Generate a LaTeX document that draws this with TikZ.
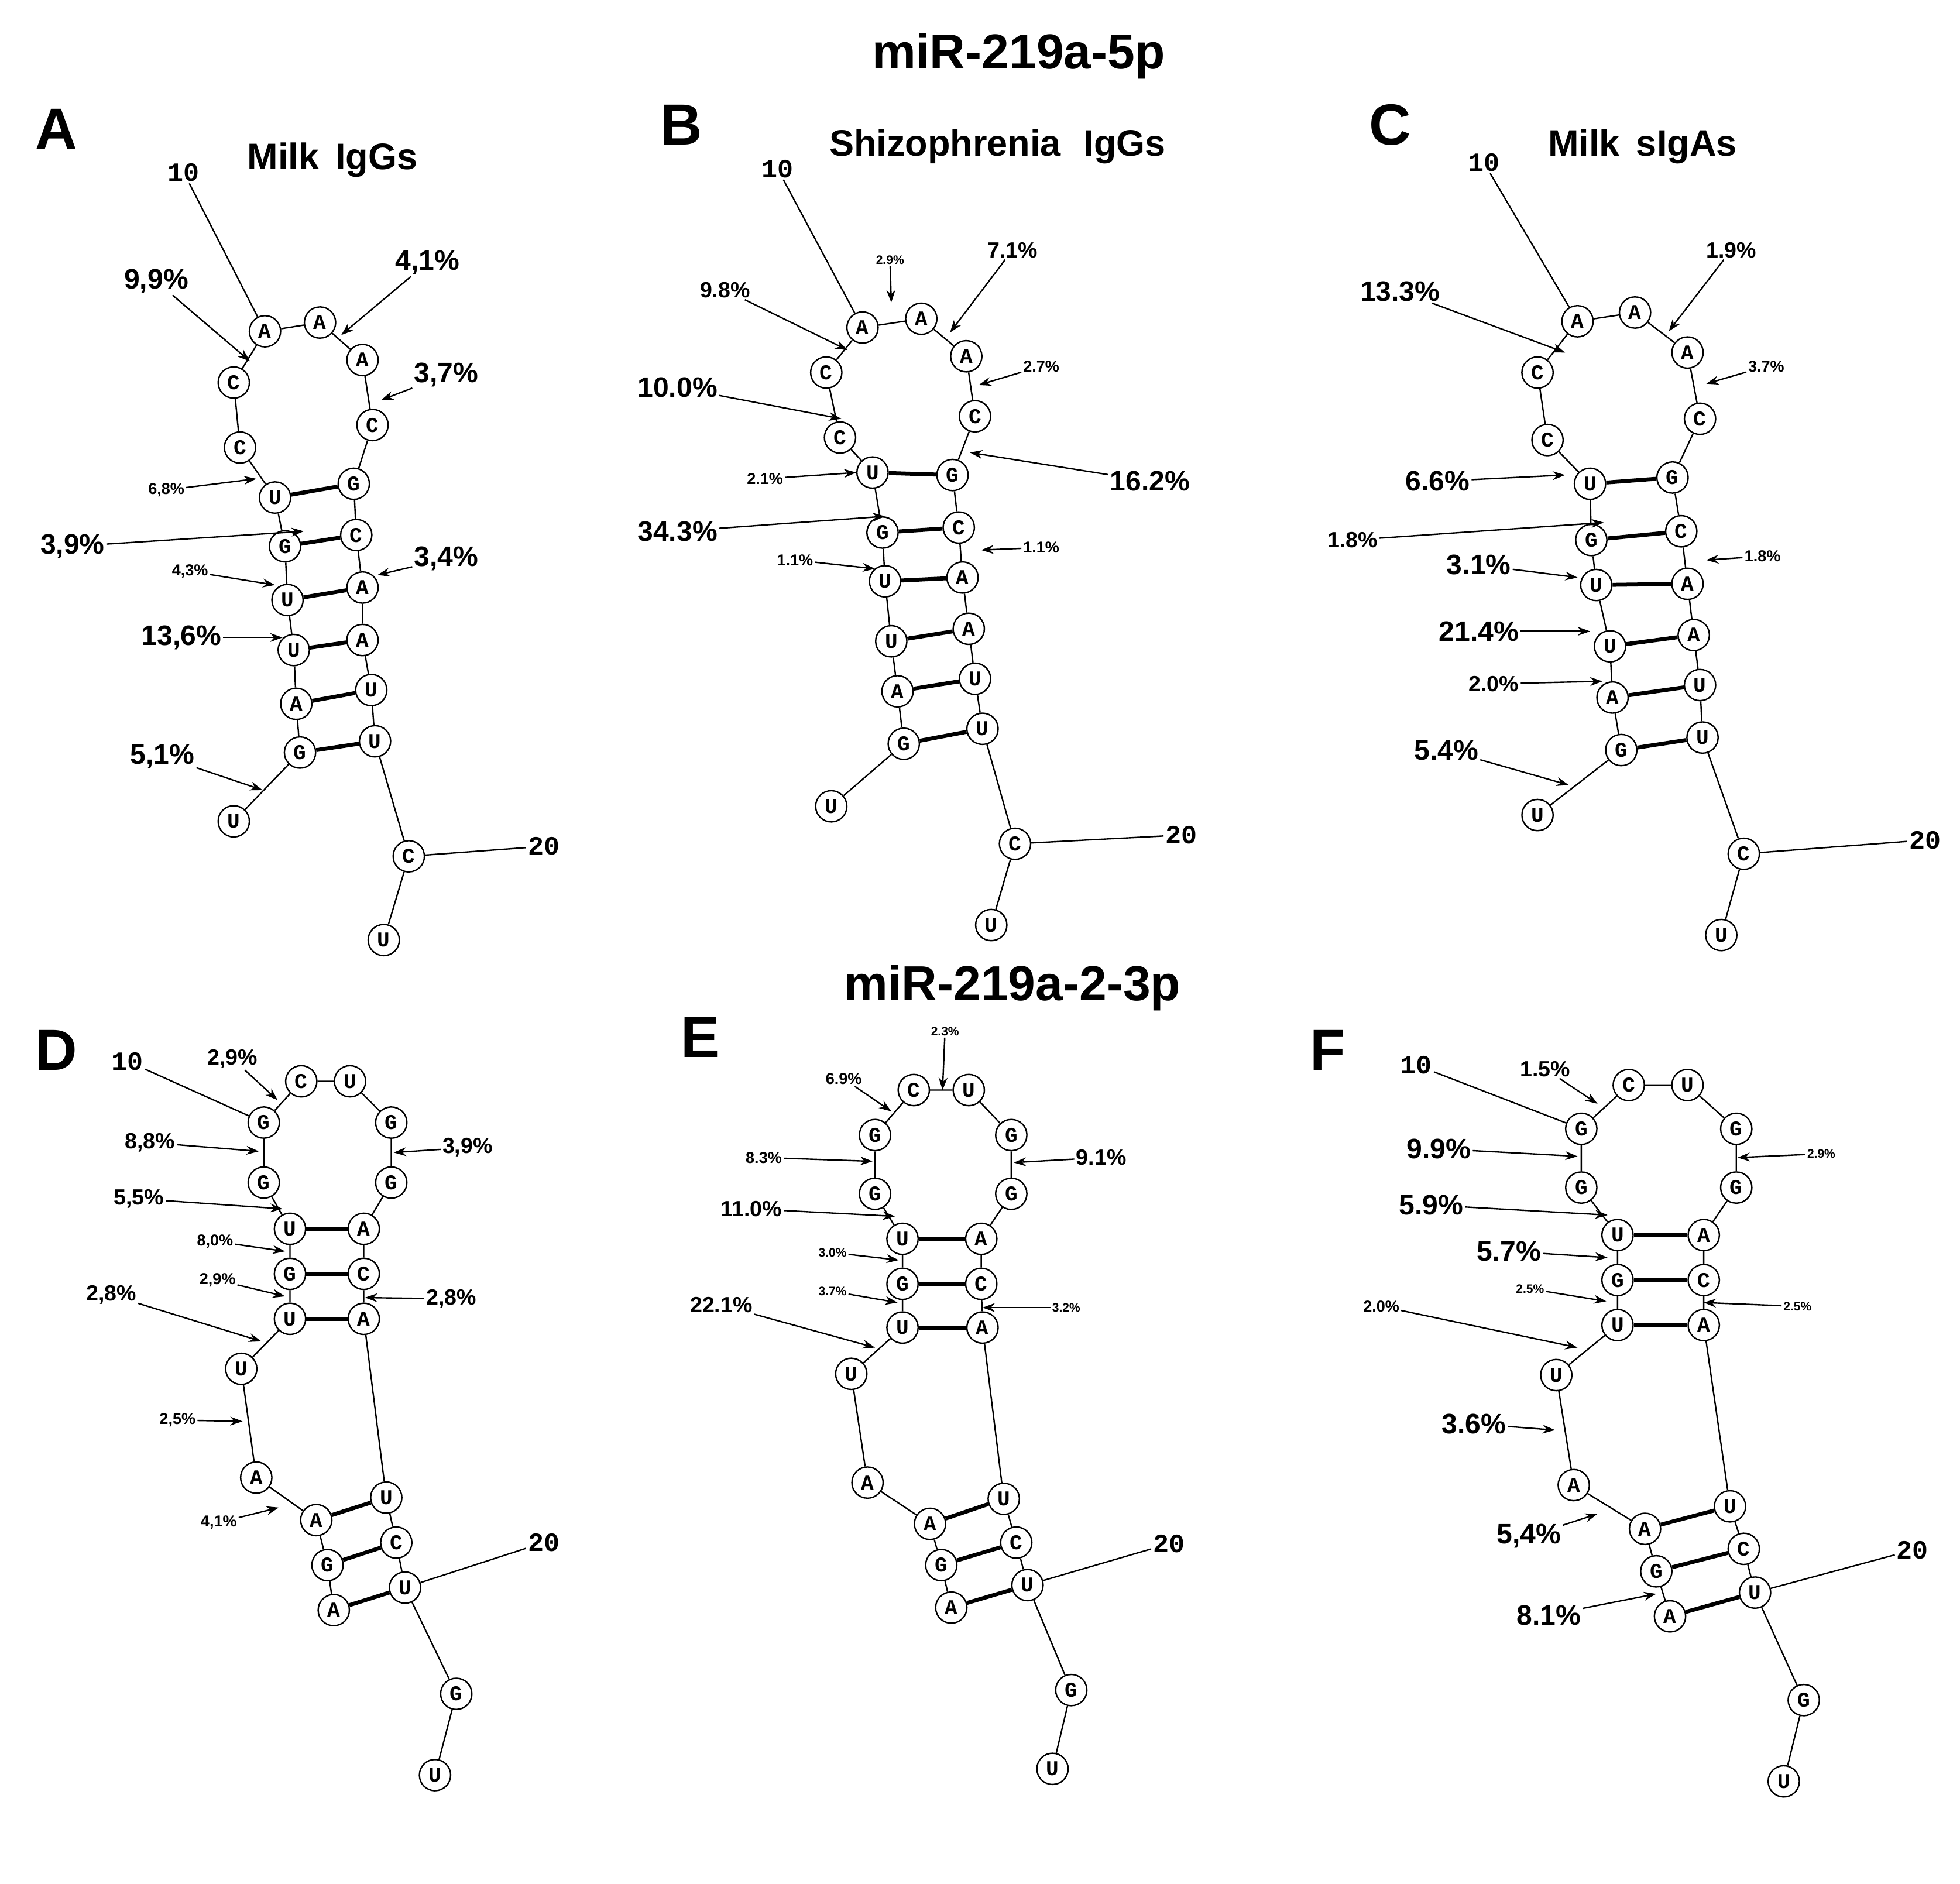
\documentclass[tikz,border=0pt]{standalone}
\usepackage{fontspec}
\setmainfont{Liberation Sans}
\newfontfamily\monof{Liberation Mono}
\usetikzlibrary{arrows.meta}
\tikzset{
 nt/.style={circle,draw,line width=1.6pt,minimum size=1.25cm,inner sep=0pt,font=\monof\bfseries\fontsize{24}{24}\selectfont,fill=white},
 bb/.style={line width=1.6pt},
 pr/.style={line width=4.5pt},
 arr/.style={line width=1.6pt,-{Stealth[length=14pt,width=10pt]}},
 big/.style={font=\bfseries\fontsize{32}{32}\selectfont,inner sep=2pt},
 mid/.style={font=\bfseries\fontsize{25}{25}\selectfont,inner sep=2pt},
 sml/.style={font=\bfseries\fontsize{18}{18}\selectfont,inner sep=2pt},
 tny/.style={font=\bfseries\fontsize{14}{14}\selectfont,inner sep=2pt},
 num/.style={font=\monof\bfseries\fontsize{30}{30}\selectfont,inner sep=2pt},
 ttl/.style={font=\bfseries\fontsize{56}{56}\selectfont},
 sub/.style={font=\bfseries\fontsize{42}{42}\selectfont},
 pl/.style={font=\bfseries\fontsize{66}{66}\selectfont},
}
\newcommand{\nuc}[4]{\node[nt] (#1) at (#2,#3) {#4};}
\begin{document}
\begin{tikzpicture}[x=0.05cm,y=-0.05cm]
\useasboundingbox[fill=white] (0,0) rectangle (1568,1507);
% titles
\node[ttl] at (815,45) {miR-219a-5p};
\node[ttl] at (810,790) {miR-219a-2-3p};
\node[pl] at (45,103) {A};
\node[pl] at (545,100) {B};
\node[pl] at (1112,100) {C};
\node[pl] at (45,840) {D};
\node[pl] at (560,830) {E};
\node[pl] at (1062,840) {F};
\node[sub] at (266,128) {Milk\, IgGs};
\node[sub] at (798,117) {Shizophrenia\,\, IgGs};
\node[sub] at (1314,117) {Milk\, sIgAs};
% ===== Panel A
\nuc{a1}{187}{657}{U}\nuc{a2}{240}{602}{G}\nuc{a3}{237}{563}{A}\nuc{a4}{235}{520}{U}
\nuc{a5}{230}{480}{U}\nuc{a6}{228}{437}{G}\nuc{a7}{220}{398}{U}\nuc{a8}{192}{358}{C}
\nuc{a9}{187}{306}{C}\nuc{a10}{212}{265}{A}\nuc{a11}{256}{258}{A}\nuc{a12}{290}{288}{A}
\nuc{a13}{298}{340}{C}\nuc{a14}{283}{387}{G}\nuc{a15}{285}{428}{C}\nuc{a16}{290}{470}{A}
\nuc{a17}{290}{512}{A}\nuc{a18}{297}{552}{U}\nuc{a19}{300}{593}{U}\nuc{a20}{327}{685}{C}\nuc{a21}{307}{752}{U}
\draw[bb] (a1)--(a2)--(a3)--(a4)--(a5)--(a6)--(a7)--(a8)--(a9)--(a10)--(a11)--(a12)--(a13)--(a14)--(a15)--(a16)--(a17)--(a18)--(a19)--(a20)--(a21);
\foreach \i/\j in {7/14,6/15,5/16,4/17,3/18,2/19}{\draw[pr] (a\i)--(a\j);}
\node[num] (a10l) at (147,138) {10}; \draw[bb] (a10l)--(a10);
\node[num] (a20l) at (435,677) {20}; \draw[bb] (a20)--(a20l);
\node[big] (pa1) at (125,225) {9,9\%}; \draw[arr] (pa1)--(200,289);
\node[big] (pa2) at (342,210) {4,1\%}; \draw[arr] (pa2)--(273,268);
\node[big] (pa3) at (357,300) {3,7\%}; \draw[arr] (pa3)--(305,320);
\node[sml] (pa4) at (133,392) {6,8\%}; \draw[arr] (pa4)--(205,383);
\node[big] (pa5) at (58,437) {3,9\%}; \draw[arr] (pa5)--(243,425);
\node[sml] (pa6) at (152,457) {4,3\%}; \draw[arr] (pa6)--(220,468);
\node[big] (pa7) at (357,447) {3,4\%}; \draw[arr] (pa7)--(302,460);
\node[big] (pa8) at (145,510) {13,6\%}; \draw[arr] (pa8)--(226,510);
\node[big] (pa9) at (130,605) {5,1\%}; \draw[arr] (pa9)--(210,632);
% ===== Panel B
\nuc{b1}{665}{645}{U}\nuc{b2}{723}{595}{G}\nuc{b3}{718}{553}{A}\nuc{b4}{713}{513}{U}
\nuc{b5}{708}{465}{U}\nuc{b6}{706}{426}{G}\nuc{b7}{698}{378}{U}\nuc{b8}{672}{350}{C}
\nuc{b9}{661}{298}{C}\nuc{b10}{690}{262}{A}\nuc{b11}{737}{255}{A}\nuc{b12}{773}{285}{A}
\nuc{b13}{780}{333}{C}\nuc{b14}{762}{380}{G}\nuc{b15}{767}{422}{C}\nuc{b16}{770}{462}{A}
\nuc{b17}{775}{503}{A}\nuc{b18}{780}{543}{U}\nuc{b19}{786}{583}{U}\nuc{b20}{812}{675}{C}\nuc{b21}{793}{740}{U}
\draw[bb] (b1)--(b2)--(b3)--(b4)--(b5)--(b6)--(b7)--(b8)--(b9)--(b10)--(b11)--(b12)--(b13)--(b14)--(b15)--(b16)--(b17)--(b18)--(b19)--(b20)--(b21);
\foreach \i/\j in {7/14,6/15,5/16,4/17,3/18,2/19}{\draw[pr] (b\i)--(b\j);}
\node[num] (b10l) at (622,135) {10}; \draw[bb] (b10l)--(b10);
\node[num] (b20l) at (945,668) {20}; \draw[bb] (b20)--(b20l);
\node[mid] (pb1) at (580,232) {9.8\%}; \draw[arr] (pb1)--(678,280);
\node[tny] (pb2) at (712,208) {2.9\%}; \draw[arr] (pb2)--(713,242);
\node[mid] (pb3) at (810,200) {7.1\%}; \draw[arr] (pb3)--(760,266);
\node[sml] (pb4) at (833,293) {2.7\%}; \draw[arr] (pb4)--(783,308);
\node[big] (pb5) at (542,310) {10.0\%}; \draw[arr] (pb5)--(673,335);
\node[sml] (pb6) at (612,383) {2.1\%}; \draw[arr] (pb6)--(685,378);
\node[big] (pb7) at (920,385) {16.2\%}; \draw[arr] (pb7)--(776,362);
\node[big] (pb8) at (542,425) {34.3\%}; \draw[arr] (pb8)--(708,413);
\node[sml] (pb9) at (636,448) {1.1\%}; \draw[arr] (pb9)--(700,455);
\node[sml] (pb10) at (833,438) {1.1\%}; \draw[arr] (pb10)--(785,440);
% ===== Panel C
\nuc{c1}{1230}{652}{U}\nuc{c2}{1297}{600}{G}\nuc{c3}{1290}{558}{A}\nuc{c4}{1288}{517}{U}
\nuc{c5}{1277}{468}{U}\nuc{c6}{1273}{432}{G}\nuc{c7}{1272}{387}{U}\nuc{c8}{1238}{352}{C}
\nuc{c9}{1230}{298}{C}\nuc{c10}{1262}{257}{A}\nuc{c11}{1308}{250}{A}\nuc{c12}{1350}{282}{A}
\nuc{c13}{1360}{335}{C}\nuc{c14}{1338}{382}{G}\nuc{c15}{1345}{425}{C}\nuc{c16}{1350}{467}{A}
\nuc{c17}{1355}{508}{A}\nuc{c18}{1360}{548}{U}\nuc{c19}{1362}{590}{U}\nuc{c20}{1395}{683}{C}\nuc{c21}{1377}{748}{U}
\draw[bb] (c1)--(c2)--(c3)--(c4)--(c5)--(c6)--(c7)--(c8)--(c9)--(c10)--(c11)--(c12)--(c13)--(c14)--(c15)--(c16)--(c17)--(c18)--(c19)--(c20)--(c21);
\foreach \i/\j in {7/14,6/15,5/16,4/17,3/18,2/19}{\draw[pr] (c\i)--(c\j);}
\node[num] (c10l) at (1187,130) {10}; \draw[bb] (c10l)--(c10);
\node[num] (c20l) at (1540,672) {20}; \draw[bb] (c20)--(c20l);
\node[big] (pc1) at (1120,233) {13.3\%}; \draw[arr] (pc1)--(1252,282);
\node[mid] (pc2) at (1385,200) {1.9\%}; \draw[arr] (pc2)--(1335,265);
\node[sml] (pc3) at (1413,293) {3.7\%}; \draw[arr] (pc3)--(1365,307);
\node[big] (pc4) at (1150,385) {6.6\%}; \draw[arr] (pc4)--(1252,380);
\node[mid] (pc5) at (1082,432) {1.8\%}; \draw[arr] (pc5)--(1283,418);
\node[big] (pc6) at (1183,452) {3.1\%}; \draw[arr] (pc6)--(1262,462);
\node[sml] (pc7) at (1410,445) {1.8\%}; \draw[arr] (pc7)--(1365,448);
\node[big] (pc8) at (1183,505) {21.4\%}; \draw[arr] (pc8)--(1272,505);
\node[mid] (pc9) at (1195,547) {2.0\%}; \draw[arr] (pc9)--(1282,545);
\node[big] (pc10) at (1157,600) {5.4\%}; \draw[arr] (pc10)--(1255,628);
% ===== Panel D
\nuc{d1}{267}{1288}{A}\nuc{d2}{262}{1252}{G}\nuc{d3}{253}{1216}{A}\nuc{d4}{205}{1182}{A}
\nuc{d5}{193}{1095}{U}\nuc{d6}{232}{1055}{U}\nuc{d7}{232}{1019}{G}\nuc{d8}{232}{983}{U}
\nuc{d9}{211}{946}{G}\nuc{d10}{211}{898}{G}\nuc{d11}{241}{865}{C}\nuc{d12}{280}{865}{U}
\nuc{d13}{313}{898}{G}\nuc{d14}{313}{946}{G}\nuc{d15}{291}{983}{A}\nuc{d16}{291}{1019}{C}
\nuc{d17}{291}{1055}{A}\nuc{d18}{309}{1198}{U}\nuc{d19}{317}{1234}{C}\nuc{d20}{324}{1270}{U}
\nuc{d21}{365}{1355}{G}\nuc{d22}{348}{1420}{U}
\draw[bb] (d1)--(d2)--(d3)--(d4)--(d5)--(d6)--(d7)--(d8)--(d9)--(d10)--(d11)--(d12)--(d13)--(d14)--(d15)--(d16)--(d17)--(d18)--(d19)--(d20)--(d21)--(d22);
\foreach \i/\j in {8/15,7/16,6/17,3/18,2/19,1/20}{\draw[pr] (d\i)--(d\j);}
\node[num] (d10l) at (102,849) {10}; \draw[bb] (d10l)--(d10);
\node[num] (d20l) at (435,1234) {20}; \draw[bb] (d20)--(d20l);
\node[mid] (pd1) at (186,847) {2,9\%}; \draw[arr] (pd1)--(222,880);
\node[mid] (pd2) at (120,914) {8,8\%}; \draw[arr] (pd2)--(207,921);
\node[mid] (pd3) at (374,918) {3,9\%}; \draw[arr] (pd3)--(315,922);
\node[mid] (pd4) at (111,959) {5,5\%}; \draw[arr] (pd4)--(226,967);
\node[sml] (pd5) at (172,993) {8,0\%}; \draw[arr] (pd5)--(228,1001);
\node[sml] (pd6) at (174,1024) {2,9\%}; \draw[arr] (pd6)--(228,1037);
\node[mid] (pd7) at (89,1036) {2,8\%}; \draw[arr] (pd7)--(209,1073);
\node[mid] (pd8) at (361,1039) {2,8\%}; \draw[arr] (pd8)--(292,1038);
\node[sml] (pd9) at (142,1136) {2,5\%}; \draw[arr] (pd9)--(194,1137);
\node[sml] (pd10) at (175,1218) {4,1\%}; \draw[arr] (pd10)--(223,1206);
% ===== Panel E
\nuc{e1}{761}{1286}{A}\nuc{e2}{753}{1252}{G}\nuc{e3}{744}{1219}{A}\nuc{e4}{694}{1186}{A}
\nuc{e5}{681}{1099}{U}\nuc{e6}{722}{1062}{U}\nuc{e7}{722}{1027}{G}\nuc{e8}{722}{991}{U}
\nuc{e9}{700}{955}{G}\nuc{e10}{700}{908}{G}\nuc{e11}{731}{872}{C}\nuc{e12}{775}{872}{U}
\nuc{e13}{809}{908}{G}\nuc{e14}{809}{955}{G}\nuc{e15}{785}{991}{A}\nuc{e16}{785}{1027}{C}
\nuc{e17}{786}{1062}{A}\nuc{e18}{803}{1199}{U}\nuc{e19}{813}{1234}{C}\nuc{e20}{822}{1268}{U}
\nuc{e21}{857}{1352}{G}\nuc{e22}{842}{1415}{U}
\draw[bb] (e1)--(e2)--(e3)--(e4)--(e5)--(e6)--(e7)--(e8)--(e9)--(e10)--(e11)--(e12)--(e13)--(e14)--(e15)--(e16)--(e17)--(e18)--(e19)--(e20)--(e21)--(e22);
\foreach \i/\j in {8/15,7/16,6/17,3/18,2/19,1/20}{\draw[pr] (e\i)--(e\j);}
\node[num] (e20l) at (935,1235) {20}; \draw[bb] (e20)--(e20l);
\node[tny] (pe1) at (756,825) {2.3\%}; \draw[arr] (pe1)--(754,872);
\node[sml] (pe2) at (675,863) {6.9\%}; \draw[arr] (pe2)--(713,889);
\node[sml] (pe3) at (611,926) {8.3\%}; \draw[arr] (pe3)--(698,929);
\node[mid] (pe4) at (881,926) {9.1\%}; \draw[arr] (pe4)--(811,930);
\node[mid] (pe5) at (601,967) {11.0\%}; \draw[arr] (pe5)--(716,973);
\node[tny] (pe6) at (666,1002) {3.0\%}; \draw[arr] (pe6)--(719,1008);
\node[tny] (pe7) at (666,1033) {3.7\%}; \draw[arr] (pe7)--(718,1042);
\node[tny] (pe8) at (853,1046) {3.2\%}; \draw[arr] (pe8)--(786,1046);
\node[mid] (pe9) at (577,1044) {22.1\%}; \draw[arr] (pe9)--(700,1078);
% ===== Panel F
\nuc{f1}{1336}{1293}{A}\nuc{f2}{1325}{1257}{G}\nuc{f3}{1316}{1223}{A}\nuc{f4}{1259}{1188}{A}
\nuc{f5}{1245}{1100}{U}\nuc{f6}{1294}{1060}{U}\nuc{f7}{1294}{1024}{G}\nuc{f8}{1294}{988}{U}
\nuc{f9}{1265}{950}{G}\nuc{f10}{1265}{903}{G}\nuc{f11}{1303}{868}{C}\nuc{f12}{1350}{868}{U}
\nuc{f13}{1389}{903}{G}\nuc{f14}{1389}{950}{G}\nuc{f15}{1363}{988}{A}\nuc{f16}{1363}{1024}{C}
\nuc{f17}{1363}{1060}{A}\nuc{f18}{1384}{1205}{U}\nuc{f19}{1395}{1239}{C}\nuc{f20}{1404}{1274}{U}
\nuc{f21}{1443}{1360}{G}\nuc{f22}{1427}{1425}{U}
\draw[bb] (f1)--(f2)--(f3)--(f4)--(f5)--(f6)--(f7)--(f8)--(f9)--(f10)--(f11)--(f12)--(f13)--(f14)--(f15)--(f16)--(f17)--(f18)--(f19)--(f20)--(f21)--(f22);
\foreach \i/\j in {8/15,7/16,6/17,3/18,2/19,1/20}{\draw[pr] (f\i)--(f\j);}
\node[num] (f10l) at (1133,852) {10}; \draw[bb] (f10l)--(f10);
\node[num] (f20l) at (1530,1240) {20}; \draw[bb] (f20)--(f20l);
\node[mid] (pf1) at (1236,855) {1.5\%}; \draw[arr] (pf1)--(1278,883);
\node[big] (pf2) at (1151,919) {9.9\%}; \draw[arr] (pf2)--(1262,925);
\node[tny] (pf3) at (1457,923) {2.9\%}; \draw[arr] (pf3)--(1390,926);
\node[big] (pf4) at (1145,964) {5.9\%}; \draw[arr] (pf4)--(1286,972);
\node[big] (pf5) at (1207,1001) {5.7\%}; \draw[arr] (pf5)--(1286,1006);
\node[tny] (pf6) at (1224,1031) {2.5\%}; \draw[arr] (pf6)--(1285,1041);
\node[tny] (pf7) at (1438,1045) {2.5\%}; \draw[arr] (pf7)--(1363,1042);
\node[sml] (pf8) at (1105,1045) {2.0\%}; \draw[arr] (pf8)--(1262,1078);
\node[big] (pf9) at (1179,1139) {3.6\%}; \draw[arr] (pf9)--(1244,1144);
\node[big] (pf10) at (1223,1229) {5,4\%}; \draw[arr] (pf10)--(1278,1211);
\node[big] (pf11) at (1239,1292) {8.1\%}; \draw[arr] (pf11)--(1325,1275);
\end{tikzpicture}
\end{document}
